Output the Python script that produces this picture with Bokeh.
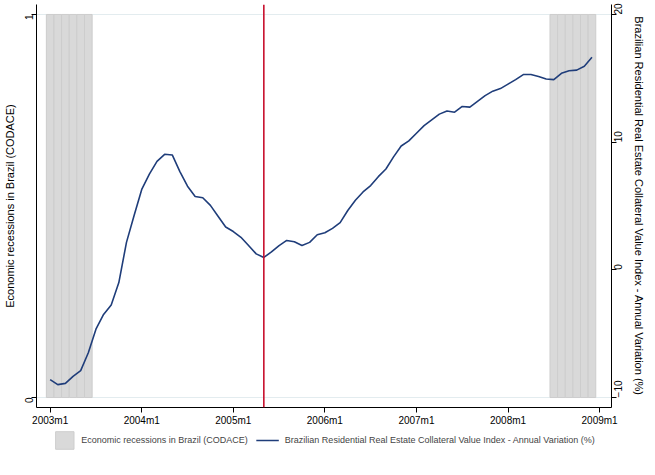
import math
from bokeh.plotting import figure
from bokeh.layouts import column
from bokeh.models import Range1d, LinearAxis, FixedTicker, Legend, LegendItem, Span
from bokeh.embed import file_html
from bokeh.resources import INLINE

# ---- data ----
month_index = list(range(72))  # 0 = 2003m1 ... 71 = 2008m12
collateral_var = [
    -8.6, -9.0, -8.9, -8.35, -7.9, -6.5, -4.65, -3.5, -2.75, -1.0, 2.15, 4.25,
    6.3, 7.5, 8.5, 9.05, 9.0, 7.7, 6.55, 5.75, 5.65, 5.05, 4.2, 3.35,
    3.0, 2.55, 1.9, 1.25, 0.97, 1.4, 1.9, 2.3, 2.2, 1.9, 2.15, 2.75,
    2.9, 3.25, 3.7, 4.65, 5.45, 6.1, 6.6, 7.3, 7.9, 8.85, 9.7, 10.1,
    10.7, 11.3, 11.75, 12.2, 12.45, 12.35, 12.8, 12.75, 13.2, 13.65, 14.0, 14.2,
    14.55, 14.9, 15.3, 15.3, 15.15, 14.95, 14.9, 15.4, 15.6, 15.65, 15.95, 16.65,
]
recession = [1] * 6 + [0] * 60 + [1] * 6
event_month = 28  # 2005m5

x_tick_positions = [0, 12, 24, 36, 48, 60, 72]
x_tick_labels = ["2003m1", "2004m1", "2005m1", "2006m1", "2007m1", "2008m1", "2009m1"]
left_ticks = [0, 1]
right_ticks = [-10, 0, 10, 20]

rec_label = "Economic recessions in Brazil (CODACE)"
var_label = "Brazilian Residential Real Estate Collateral Value Index - Annual Variation (%)"

FONT = "Liberation Sans"
TICK_FS = "10px"
TITLE_FS = "11px"
LEGEND_FS = "9px"
REC_FILL = "#d9d9d9"
REC_LINE = "#cdcdcd"
LINE_COLOR = "#1f3d7a"

rec_x = [m for m, r in zip(month_index, recession) if r == 1]
rec_top = [r for r in recession if r == 1]

p = figure(width=647, height=428, output_backend="svg", toolbar_location=None,
           x_range=Range1d(-1.79, 73.56), y_range=Range1d(-0.026, 1.026),
           min_border_left=0, min_border_right=0, min_border_top=4, min_border_bottom=0)
p.outline_line_color = None
p.background_fill_color = "white"
p.extra_y_ranges = {"right": Range1d(-10.79, 20.79)}

p.vbar(x=rec_x, top=rec_top, bottom=0, width=1.0, fill_color=REC_FILL,
       line_color=REC_LINE, line_width=1)
p.line(month_index, collateral_var, y_range_name="right", line_color=LINE_COLOR, line_width=1.6)
p.add_layout(Span(location=event_month, dimension="height", line_color="#c8102e", line_width=1.6))

# grid
p.xgrid.visible = False
p.ygrid.ticker = FixedTicker(ticks=left_ticks)
p.ygrid.grid_line_color = "#e3ecef"
p.ygrid.grid_line_width = 1

# x axis
xa = p.xaxis[0]
xa.ticker = FixedTicker(ticks=x_tick_positions)
xa.major_label_overrides = {pos: lab for pos, lab in zip(x_tick_positions, x_tick_labels)}

# left axis
ya = p.yaxis[0]
ya.ticker = FixedTicker(ticks=left_ticks)
ya.major_label_orientation = math.pi / 2
ya.axis_label = rec_label

# right axis
ra = LinearAxis(y_range_name="right", ticker=FixedTicker(ticks=right_ticks), axis_label=var_label)
ra.major_label_orientation = math.pi / 2
p.add_layout(ra, "right")

for ax in [xa, ya, ra]:
    ax.minor_tick_line_color = None
    ax.major_tick_out = 5
    ax.major_tick_in = 0
    ax.axis_line_color = "black"
    ax.major_tick_line_color = "black"
    ax.major_label_text_font = FONT
    ax.major_label_text_font_size = TICK_FS
    ax.major_label_text_color = "black"
    ax.major_label_standoff = 2
    ax.axis_label_text_font = FONT
    ax.axis_label_text_font_size = TITLE_FS
    ax.axis_label_text_font_style = "normal"
    ax.axis_label_text_color = "black"
    ax.axis_label_standoff = 3

# ---- legend strip (separate figure below the chart) ----
# key renderers reuse the series but sit outside this strip's visible ranges
lf = figure(width=647, height=39, output_backend="svg", toolbar_location=None,
            x_axis_location=None, y_axis_location=None,
            x_range=Range1d(1000, 1001), y_range=Range1d(1000, 1001),
            min_border_left=0, min_border_right=0, min_border_top=0, min_border_bottom=0)
lf.outline_line_color = None
lf.xgrid.visible = False
lf.ygrid.visible = False
key_bar = lf.vbar(x=rec_x, top=rec_top, bottom=0, width=1.0, fill_color=REC_FILL,
                  line_color=REC_LINE, line_width=1)
key_line = lf.line(month_index, collateral_var, line_color=LINE_COLOR, line_width=1.6)

legend = Legend(items=[
    LegendItem(label=rec_label, renderers=[key_bar]),
    LegendItem(label=var_label, renderers=[key_line]),
], orientation="horizontal", location="top_center")
legend.label_text_font = FONT
legend.label_text_font_size = LEGEND_FS
legend.glyph_width = 23
legend.glyph_height = 22
legend.label_standoff = 6
legend.spacing = 8
legend.border_line_color = None
legend.background_fill_alpha = 0
legend.padding = 0
legend.margin = 1
lf.add_layout(legend, "center")

layout = column(p, lf, spacing=0)
open("out.html", "w").write(file_html(layout, INLINE))
